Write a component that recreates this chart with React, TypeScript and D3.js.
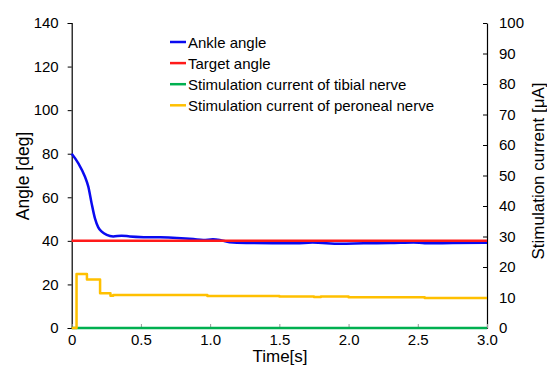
import { useEffect, useRef } from 'react'
import * as d3 from 'd3'

// Ankle angle [deg] over time [s]
const ankleT = [0, 0.048, 0.096, 0.12, 0.144, 0.168, 0.192, 0.217, 0.253, 0.3, 0.36, 0.42, 0.52, 0.64, 0.76, 0.88, 0.95, 1.02, 1.07, 1.14, 1.26, 1.45, 1.62, 1.74, 1.94, 2.11, 2.3, 2.47, 2.55, 2.75, 3.0]
const ankleV = [80, 75.6, 69.4, 64.9, 57.2, 50.3, 46.2, 44.2, 42.7, 42.0, 42.4, 42.0, 41.7, 41.6, 41.3, 40.8, 40.4, 40.7, 40.4, 39.4, 39.0, 38.9, 38.9, 39.2, 38.7, 38.9, 39.0, 39.3, 38.9, 39.0, 39.1]

// Target angle [deg]
const targetT = [0, 3]
const targetV = [40, 40]

// Stimulation currents [uA]
const tibialT = [0, 3]
const tibialV = [0, 0]

const peronealT = [0, 0.035, 0.11, 0.205, 0.28, 0.3, 0.6, 0.98, 1.5, 1.75, 1.8, 2.0, 2.55, 3.0]
const peronealV = [0, 17.7, 15.9, 11.4, 10.6, 10.8, 10.8, 10.5, 10.3, 10.2, 10.3, 10.1, 9.8, 9.8]

const angleTicks = [0, 20, 40, 60, 80, 100, 120, 140]
const currentTicks = [0, 10, 20, 30, 40, 50, 60, 70, 80, 90, 100]
const timeTicks = [0, 0.5, 1.0, 1.5, 2.0, 2.5, 3.0]

const legendItems = [
  { label: 'Ankle angle', color: '#0a0af0' },
  { label: 'Target angle', color: '#ff1a1a' },
  { label: 'Stimulation current of tibial nerve', color: '#00b050' },
  { label: 'Stimulation current of peroneal nerve', color: '#ffc000' },
]

export default function App() {
  const svgRef = useRef<SVGSVGElement>(null)

  useEffect(() => {
    if (!svgRef.current) return
    const svg = d3.select(svgRef.current)
    svg.selectAll('*').remove()

    const font = '"Liberation Sans", Arial, sans-serif'
    const left = 71.7, right = 487, top = 23, bottom = 328

    const x = d3.scaleLinear().domain([0, 3]).range([left, right])
    const yA = d3.scaleLinear().domain([0, 140]).range([bottom, top])
    const yC = d3.scaleLinear().domain([0, 100]).range([bottom, top])

    const g = svg.append('g')

    // left axis
    const la = g.append('g').attr('transform', `translate(${left},0)`)
      .call(d3.axisLeft(yA).tickValues(angleTicks).tickSize(4).tickPadding(9).tickFormat(d3.format('d')))
    la.select('.domain').attr('stroke', '#000').attr('stroke-width', 1.2)
    la.selectAll('.tick line').attr('stroke', '#000')
    la.selectAll('.tick text').attr('font-family', font).attr('font-size', 15).attr('fill', '#000')

    // right axis, inward ticks
    const ra = g.append('g').attr('transform', `translate(${right},0)`)
      .call(d3.axisRight(yC).tickValues(currentTicks).tickSizeInner(-4).tickSizeOuter(0).tickPadding(12).tickFormat(d3.format('d')))
    ra.select('.domain').attr('stroke', '#000').attr('stroke-width', 1.2)
    ra.selectAll('.tick line').attr('stroke', '#000')
    ra.selectAll('.tick text').attr('font-family', font).attr('font-size', 15).attr('fill', '#000')

    // bottom axis, inward ticks
    const ba = g.append('g').attr('transform', `translate(0,${bottom})`)
      .call(d3.axisBottom(x).tickValues(timeTicks).tickSizeInner(-4).tickSizeOuter(0).tickPadding(6)
        .tickFormat((d: any) => (d === 0 ? '0' : d3.format('.1f')(d))))
    ba.select('.domain').attr('stroke', '#000')
    ba.selectAll('.tick line').attr('stroke', '#999')
    ba.selectAll('.tick text').attr('font-family', font).attr('font-size', 15).attr('fill', '#000')

    // axis titles
    svg.append('text')
      .attr('transform', `translate(23,176) rotate(-90)`)
      .attr('text-anchor', 'middle').attr('dominant-baseline', 'central')
      .attr('font-family', font).attr('font-size', 17.5).text('Angle [deg]')
    svg.append('text')
      .attr('transform', `translate(538,171) rotate(-90)`)
      .attr('text-anchor', 'middle').attr('dominant-baseline', 'central')
      .attr('font-family', font).attr('font-size', 17).text('Stimulation current [μA]')
    svg.append('text')
      .attr('x', 280).attr('y', 356)
      .attr('text-anchor', 'middle').attr('dominant-baseline', 'central')
      .attr('font-family', font).attr('font-size', 17).text('Time[s]')

    const drawSeries = (ts: number[], vs: number[], y: d3.ScaleLinear<number, number>, color: string, curve: d3.CurveFactory) => {
      const pts = ts.map((t, i) => [t, vs[i]] as [number, number])
      g.append('path')
        .datum(pts)
        .attr('fill', 'none')
        .attr('stroke', color)
        .attr('stroke-width', 2.5)
        .attr('stroke-linejoin', 'round')
        .attr('d', d3.line<[number, number]>().x(d => x(d[0])).y(d => y(d[1])).curve(curve))
    }

    drawSeries(tibialT, tibialV, yC, legendItems[2].color, d3.curveLinear)
    drawSeries(peronealT, peronealV, yC, legendItems[3].color, d3.curveStepAfter)
    drawSeries(ankleT, ankleV, yA, legendItems[0].color, d3.curveMonotoneX)
    drawSeries(targetT, targetV, yA, legendItems[1].color, d3.curveLinear)

    // legend
    const lg = svg.append('g')
    legendItems.forEach((item, i) => {
      const yy = 42 + i * 21.1
      lg.append('line').attr('x1', 170).attr('x2', 186).attr('y1', yy).attr('y2', yy)
        .attr('stroke', item.color).attr('stroke-width', 2.5)
      lg.append('text').attr('x', 188).attr('y', yy).attr('dominant-baseline', 'central')
        .attr('font-family', font).attr('font-size', 15).attr('fill', '#000').text(item.label)
    })
  }, [])

  return (
    <svg ref={svgRef} width={547} height={365}
      style={{ position: 'absolute', left: 0, top: 0, background: '#fff' }} />
  )
}
